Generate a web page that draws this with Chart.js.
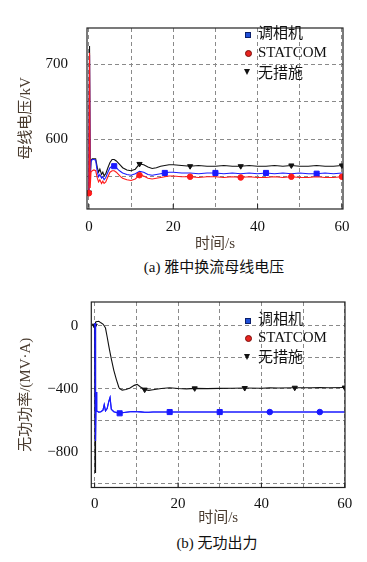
<!DOCTYPE html>
<html><head><meta charset="utf-8">
<script src="https://cdn.jsdelivr.net/npm/chart.js@4.4.1/dist/chart.umd.min.js"></script>
<style>
html,body{margin:0;padding:0;background:#fff;}
body{width:367px;height:562px;position:relative;overflow:hidden;font-family:"Liberation Serif","Noto Sans CJK SC",serif;}
canvas{position:absolute;left:0;}
.cap{position:absolute;font-size:15px;line-height:18px;color:#111;text-align:center;white-space:nowrap;width:200px;}
.lg{position:absolute;font-size:15px;line-height:18px;color:#111;white-space:nowrap;left:258px;}
.sq{position:absolute;width:4px;height:4px;background:#1f4fd8;border:1px solid #0b1f6a;}
.ci{position:absolute;width:5px;height:5px;border-radius:50%;background:#e8241f;border:0.5px solid #7a0d0a;}
.tr{position:absolute;width:0;height:0;border-left:3px solid transparent;border-right:3px solid transparent;border-top:6px solid #111;}
</style></head><body>
<canvas id="c1" width="367" height="256" style="top:0"></canvas>
<canvas id="c2" width="367" height="252" style="top:280px"></canvas>

<div class="cap" style="left:114px;top:258px">(a) 雅中换流母线电压</div>
<div class="cap" style="left:117px;top:534px">(b) 无功出力</div>

<div class="sq" style="left:245px;top:32px"></div><div class="lg" style="top:24px">调相机</div>
<div class="ci" style="left:245px;top:50px"></div><div class="lg" style="top:43px">STATCOM</div>
<div class="tr" style="left:244px;top:69px"></div><div class="lg" style="top:64px">无措施</div>

<div class="sq" style="left:245px;top:318px"></div><div class="lg" style="top:310px">调相机</div>
<div class="ci" style="left:245px;top:335px"></div><div class="lg" style="top:328px">STATCOM</div>
<div class="tr" style="left:244px;top:354px"></div><div class="lg" style="top:348px">无措施</div>

<script>
// ---- (a) bus voltage, kV ----
const tV    = [0, 0.15, 0.3, 0.5, 0.8, 1.2, 1.6, 2.0, 2.3, 2.6, 3.0, 3.3, 3.6, 4.0, 4.5, 5.0, 5.5, 6.0, 6.5, 7.0, 7.5, 8.0, 9.0, 10.0, 11.0, 12.0, 13.0, 14.0, 15.0, 16.0, 17.0, 18.0, 19.0, 20.0, 22, 24, 26, 28, 30, 32, 34, 36, 38, 40, 42, 44, 46, 48, 50, 52, 54, 56, 58, 60];
const vNone = [529, 724, 545, 572, 574, 574, 574, 562, 556, 560, 553, 556, 551, 554, 562, 569, 573, 573, 571, 568, 565, 562, 559, 558, 560, 567, 566, 563, 561, 562, 564, 565, 566, 566, 565, 564, 565, 564, 564, 565, 564, 564, 565, 564, 564, 565, 564, 565, 564, 564, 565, 564, 564, 565];
const vSync = [529, 712, 548, 570, 573, 573, 572, 556, 550, 553, 548, 550, 546, 549, 556, 562, 564, 564, 562, 559, 557, 555, 553, 552, 554, 557, 556, 553, 552, 553, 554, 555, 556, 556, 555, 555, 554, 555, 555, 554, 555, 554, 555, 554, 555, 554, 555, 554, 555, 554, 554, 555, 554, 555];
const vStat = [528, 715, 535, 556, 558, 559, 558, 548, 543, 546, 541, 544, 541, 543, 550, 556, 558, 558, 556, 553, 550, 548, 546, 545, 547, 552, 551, 548, 547, 548, 549, 550, 551, 551, 550, 550, 549, 550, 550, 549, 550, 549, 550, 549, 549, 550, 549, 550, 549, 549, 550, 549, 549, 550];

// ---- (b) reactive power, MV·A ----
const tQ    = [0, 0.1, 0.18, 0.25, 0.35, 0.5, 1.0, 1.5, 2.0, 2.3, 2.6, 3.0, 3.4, 3.7, 4.0, 4.6, 5.2, 5.8, 6.0, 6.6, 7.5, 8.5, 9.5, 10.2, 11, 12, 13, 14, 16, 18, 20, 22, 24, 27, 30, 33, 36, 40, 42, 44, 48, 52, 54, 56, 60];
const qNone = [0, -930, 20, 22, 25, 25, 28, 18, 10, 0, -15, -70, -130, -170, -210, -283, -340, -390, -398, -408, -404, -395, -378, -372, -388, -405, -410, -406, -398, -393, -398, -400, -397, -399, -397, -396, -395, -396, -394, -395, -393, -393, -392, -393, -392];
const qSync = [0, 15, -300, -730, -420, -540, -548, -545, -535, -500, -540, -525, -480, -455, -530, -545, -550, -555, -555, -552, -548, -545, -544, -545, -546, -548, -548, -547, -547, -547, -547, -547, -547, -547, -547, -547, -547, -547, -547, -547, -547, -547, -547, -547, -547];
const qStat = [0, 15, -300, -730, -420, -540, -548, -545, -535, -500, -540, -525, -480, -455, -530, -545, -550, -555, -555, -552, -548, -545, -544, -545, -546, -548, -548, -547, -547, -547, -547, -547, -547, -547, -547, -547, -547, -547, -547, -547, -547, -547, -547, -547, -547];

// ---- ticks / markers ----
const xGrid   = [0, 10, 20, 30, 40, 50, 60];
const xLabels = [0, 20, 40, 60];
const vGrid   = [550, 600, 650, 700];
const vLabels = [600, 700];
const qGrid   = [-1000, -800, -600, -400, -200, 0];
const qLabels = [-800, -400, 0];
const markSyncV = [6, 18, 30, 42, 54];
const markStatV = [0, 12, 24, 36, 48, 60];
const markNoneV = [0, 12, 24, 36, 48, 60];
const markSyncQ = [6, 18, 30];
const markStatQ = [42, 54];
const markNoneQ = [0, 12, 24, 36, 48, 60];

const BLUE = '#1a1aff', RED = '#ff1a1a', BLACK = '#111111';
const TITLE_COLOR = '#4a3c30';
const FONT = {family: '"Liberation Serif","Noto Sans CJK SC",serif', size: 15};

function ds(label, ts, vals, color, style, marks, r, order, rot) {
  return {
    label, data: ts.map((t, i) => ({x: t, y: vals[i]})),
    borderColor: color, backgroundColor: color, borderWidth: 1.1,
    pointStyle: style, rotation: rot || 0,
    pointRadius: c => (c.raw && marks.includes(c.raw.x)) ? r : 0,
    pointHoverRadius: 0, pointBorderWidth: 1, pointBorderColor: color,
    tension: 0, order
  };
}

const frame = {
  id: 'frame',
  afterDatasetsDraw(ch) {
    const {ctx, chartArea: a, scales: {x}} = ch;
    ctx.save();
    ctx.strokeStyle = '#222'; ctx.lineWidth = 1.2;
    ctx.strokeRect(a.left, a.top, a.right - a.left, a.bottom - a.top);
    ctx.lineWidth = 1; ctx.beginPath();
    xLabels.filter(v => v > x.min && v < x.max).forEach(v => {
      const px = x.getPixelForValue(v);
      ctx.moveTo(px, a.bottom); ctx.lineTo(px, a.bottom - 5);
    });
    ctx.stroke(); ctx.restore();
  }
};

function makeChart(id, datasets, o) {
  return new Chart(document.getElementById(id), {
    type: 'line',
    data: {datasets},
    options: {
      responsive: false, animation: false, devicePixelRatio: 1,
      layout: {padding: {left: 0, top: o.padTop, right: o.padRight, bottom: 0}},
      plugins: {legend: {display: false}, tooltip: {enabled: false}},
      scales: {
        x: {
          type: 'linear', min: o.xmin, max: o.xmax,
          afterBuildTicks: s => { s.ticks = xGrid.map(v => ({value: v})); },
          afterFit: s => { s.height = o.xH; },
          grid: {color: '#8a8a8a', lineWidth: 1, drawTicks: false},
          border: {display: false, dash: [4, 3]},
          ticks: {padding: o.xTickPad, font: FONT, color: '#111', maxRotation: 0, autoSkip: false,
                  callback: v => xLabels.includes(v) ? String(v) : ''},
          title: {display: true, text: '时间/s', font: FONT, color: TITLE_COLOR, padding: {top: 0, bottom: o.xTitlePad}}
        },
        y: {
          type: 'linear', min: o.ymin, max: o.ymax,
          afterBuildTicks: s => { s.ticks = o.yGrid.map(v => ({value: v})); },
          afterFit: s => { s.width = o.yW; },
          grid: {color: '#8a8a8a', lineWidth: 1, drawTicks: false},
          border: {display: false, dash: [4, 3]},
          ticks: {padding: o.yTickPad, font: FONT, color: '#111', autoSkip: false,
                  callback: v => o.yLabels.includes(v) ? String(v).replace('-', '\u2212') : ''},
          title: {display: true, text: o.yTitle, font: FONT, color: TITLE_COLOR, padding: {top: o.yTitlePad, bottom: 0}}
        }
      }
    },
    plugins: [frame]
  });
}

makeChart('c1', [
  ds('STATCOM', tV, vStat, RED, 'circle', markStatV, 2.8, 0),
  ds('调相机', tV, vSync, BLUE, 'rect', markSyncV, 3.6, 1),
  ds('无措施', tV, vNone, BLACK, 'triangle', markNoneV, 3, 2, 180)
], {padTop: 15, padRight: 24, xmin: -0.45, xmax: 60.25, ymin: 507, ymax: 748,
    xH: 47, yW: 87, xTickPad: 9, xTitlePad: 3, yTickPad: 19, yTitlePad: 17,
    yGrid: vGrid, yLabels: vLabels, yTitle: '母线电压/kV'});

makeChart('c2', [
  ds('调相机', tQ, qSync, BLUE, 'rect', markSyncQ, 3.6, 0),
  ds('STATCOM', tQ, qStat, BLUE, 'circle', markStatQ, 2.8, 1),
  ds('无措施', tQ, qNone, BLACK, 'triangle', markNoneQ, 3, 2, 180)
], {padTop: 17, padRight: 22, xmin: -0.8, xmax: 60.05, ymin: -1025, ymax: 150,
    xH: 44.5, yW: 91.3, xTickPad: 7.5, xTitlePad: 5, yTickPad: 13, yTitlePad: 17,
    yGrid: qGrid, yLabels: qLabels, yTitle: '无功功率/(MV·A)'});
</script>
</body></html>
